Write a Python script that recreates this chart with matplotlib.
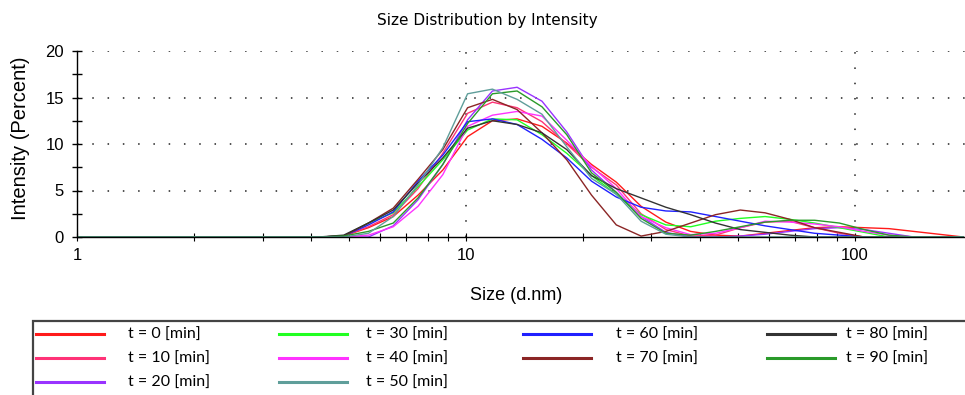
import matplotlib
matplotlib.use("Agg")
import matplotlib.pyplot as plt
from matplotlib.patches import Rectangle
from matplotlib.ticker import FixedLocator, NullFormatter, FixedFormatter

# Size bins (d.nm)
sizes = [0.9649, 4.188, 4.849, 5.615, 6.503, 7.531, 8.721, 10.10, 11.70, 13.54,
         15.69, 18.17, 21.04, 24.36, 28.21, 32.67, 37.84, 43.82, 50.75,
         58.77, 68.06, 78.82, 91.28, 105.7, 122.4, 141.8, 164.2, 190.1]

t0 = [0, 0, 0.1, 1.0, 2.2, 4.5, 7.2, 10.8, 12.5, 12.7, 11.9, 10.1, 7.8, 5.9,
      3.3, 1.6, 0.6, 0.2, 0.1, 0.4, 0.7, 1.0, 1.1, 1.0, 0.9, 0.6, 0.3, 0.0]
t10 = [0, 0, 0.1, 1.1, 2.4, 5.2, 9.0, 13.3, 14.5, 13.9, 12.4, 10.0, 7.5, 5.6,
       2.5, 0.8, 0.1, 0.2, 1.0, 1.6, 1.7, 1.0, 0.4, 0.0, 0, 0, 0, 0]
t20 = [0, 0, 0.0, 0.0, 1.2, 4.0, 7.8, 12.6, 15.7, 16.1, 14.6, 11.3, 7.2, 4.8,
       2.2, 0.5, 0.0, 0.0, 0.1, 0.3, 0.6, 0.9, 1.0, 0.8, 0.4, 0.0, 0, 0]
t30 = [0, 0, 0.1, 1.5, 2.6, 5.4, 8.3, 11.5, 12.7, 12.6, 11.0, 9.0, 6.6, 4.6,
       2.4, 1.3, 1.1, 1.7, 2.0, 2.2, 1.9, 1.5, 1.0, 0.5, 0.0, 0, 0, 0]
t40 = [0, 0, 0.0, 0.2, 1.1, 3.3, 6.7, 11.9, 13.1, 13.5, 13.0, 10.4, 7.6, 5.2,
       2.2, 1.0, 0.25, 0.4, 1.0, 1.7, 1.6, 1.4, 1.1, 0.6, 0.2, 0.0, 0, 0]
t50 = [0, 0, 0.0, 0.4, 2.2, 5.6, 9.6, 15.4, 15.9, 14.8, 13.2, 9.7, 6.3, 4.6,
       1.7, 0.3, 0.0, 0, 0, 0, 0, 0, 0, 0, 0, 0, 0, 0]
t60 = [0, 0, 0.1, 1.3, 2.7, 6.0, 8.8, 12.4, 12.7, 12.1, 10.5, 8.5, 6.0, 4.3,
       3.2, 2.8, 2.7, 2.2, 1.7, 1.2, 0.8, 0.4, 0.2, 0.0, 0, 0, 0, 0]
t70 = [0, 0, 0.1, 1.5, 3.1, 6.2, 9.4, 13.9, 14.8, 13.7, 11.2, 8.3, 4.5, 1.3,
       0.1, 0.6, 1.5, 2.4, 2.9, 2.6, 1.9, 1.0, 0.5, 0.0, 0, 0, 0, 0]
t80 = [0, 0, 0.2, 1.5, 2.9, 5.8, 8.5, 11.7, 12.5, 12.1, 11.2, 9.4, 6.6, 5.2,
       4.2, 3.2, 2.4, 1.5, 0.8, 0.5, 0.2, 0.0, 0, 0, 0, 0, 0, 0]
t90 = [0, 0, 0.1, 0.6, 1.5, 4.2, 7.8, 12.2, 15.4, 15.7, 14.0, 11.0, 6.9, 4.8,
       2.0, 0.4, 0.2, 0.6, 1.1, 1.6, 1.8, 1.8, 1.5, 0.8, 0.2, 0.0, 0, 0]

series = [t0, t10, t20, t30, t40, t50, t60, t70, t80, t90]
labels = ["t = 0 [min]", "t = 10 [min]", "t = 20 [min]", "t = 30 [min]",
          "t = 40 [min]", "t = 50 [min]", "t = 60 [min]", "t = 70 [min]",
          "t = 80 [min]", "t = 90 [min]"]
colors = ["#ff1a1a", "#ff3377", "#9933ff", "#22ff22", "#ff33ff",
          "#5f9e9a", "#2020ff", "#8b2525", "#333333", "#2a9a2a"]

yticks = [0, 5, 10, 15, 20]
xticks = [1, 10, 100]

W, H = 965, 395
fig = plt.figure(figsize=(W / 100, H / 100), dpi=100)
ax = fig.add_axes([77/W, 1 - 237/H, 1 - 77/W, 186/H])

order = [0, 1, 2, 3, 4, 6, 7, 8, 9, 5]
handles = {}
for i in order:
    h, = ax.plot(sizes, series[i], color=colors[i], lw=1.0, label=labels[i])
    handles[i] = h

ax.set_xscale("log")
ax.set_xlim(1, 192)
ax.set_ylim(0, 20)

for s in ["top", "right"]:
    ax.spines[s].set_visible(False)
ax.spines["left"].set_linewidth(1.0)
ax.spines["bottom"].set_linewidth(1.0)

ax.yaxis.set_major_locator(FixedLocator(yticks))
ax.yaxis.set_minor_locator(FixedLocator([2.5, 7.5, 12.5, 17.5]))
ax.xaxis.set_major_locator(FixedLocator(xticks))
ax.xaxis.set_major_formatter(FixedFormatter([str(v) for v in xticks]))
ax.xaxis.set_minor_locator(FixedLocator([2, 3, 4, 5, 6, 7, 8, 9,
                                         20, 30, 40, 50, 60, 70, 80, 90]))
ax.xaxis.set_minor_formatter(NullFormatter())

ax.tick_params(axis="y", which="both", direction="inout", length=7, width=1,
               labelsize=12, pad=6)
ax.tick_params(axis="x", which="both", direction="inout", length=6, width=0.8,
               labelsize=12, pad=5)
for lab in ax.get_xticklabels() + ax.get_yticklabels():
    lab.set_family("Liberation Sans")

dots = (0, (1, 9))
for y in [5, 10, 15, 20]:
    ax.axhline(y, color="#222222", lw=1.1, ls=dots, zorder=0)
for x in [10, 100]:
    ax.axvline(x, color="#222222", lw=1.1, ls=dots, zorder=0)

ax.set_ylabel("Intensity (Percent)", fontsize=14.5, family="Liberation Sans")
ax.yaxis.set_label_coords((30 - 77) / 888, 0.53)
ax.set_xlabel("Size (d.nm)", fontsize=13, family="Liberation Sans")
ax.xaxis.set_label_coords((516 - 77) / 888, -(287 - 237) / 186)
fig.text(487/W, 1 - 20/H, "Size Distribution by Intensity", ha="center",
         va="center", fontsize=11, family="DejaVu Sans")

# legend frame
fig.patches.append(Rectangle((33/W, -0.05), 1.0, 1 - 321/H + 0.05,
                             transform=fig.transFigure, fill=False,
                             edgecolor="#444444", linewidth=1.6))

# legend entries: (handle start x, row y, text pad)
col_x = [36, 36, 36, 279, 279, 279, 523, 523, 767, 767]
row_y = [334, 358, 382, 334, 358, 382, 334, 358, 334, 358]
pads = [1.5, 1.5, 1.5, 1.2, 1.2, 1.2, 1.6, 1.6, 0.7, 0.7]
for i in range(10):
    lg = fig.legend([handles[i]], [labels[i]], loc="center left",
                    bbox_to_anchor=(col_x[i] / W, 1 - (row_y[i] + 1) / H),
                    frameon=False, prop={"family": "Lato", "size": 11.5},
                    handlelength=4.25, handletextpad=pads[i], borderpad=0,
                    borderaxespad=0)
    for l in lg.get_lines():
        l.set_linewidth(2.2)

fig.savefig("out.png", dpi=100)
